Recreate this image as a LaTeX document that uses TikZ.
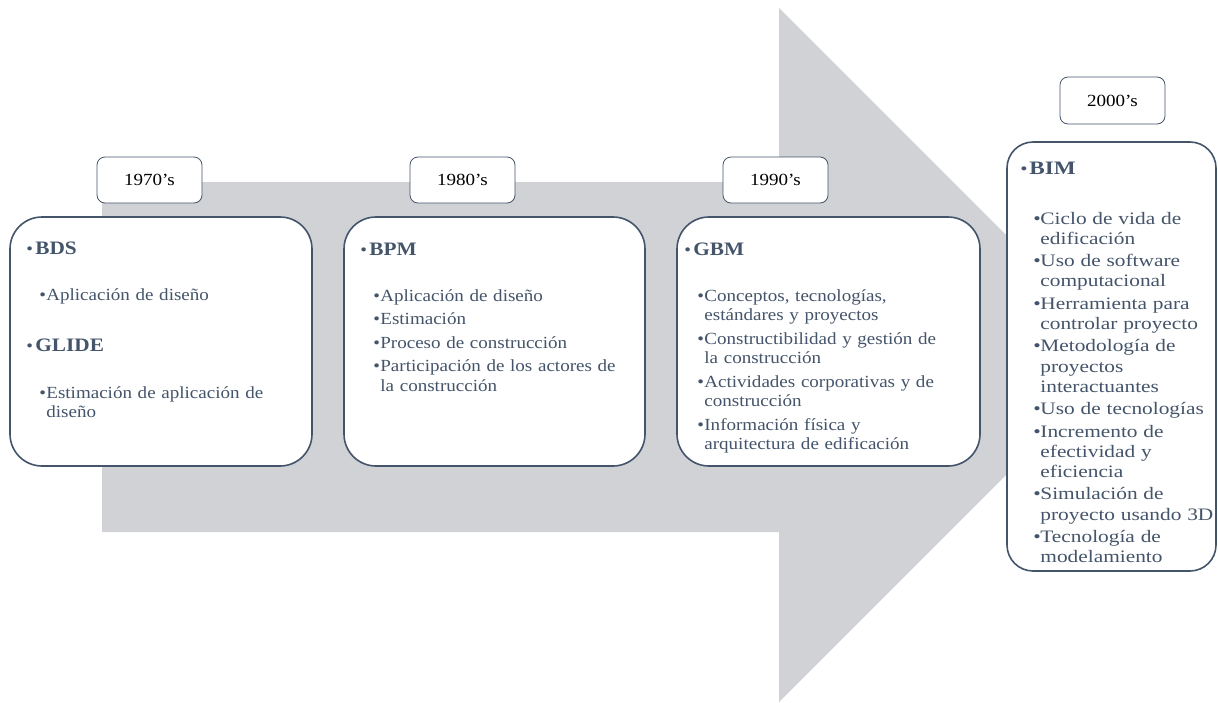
\documentclass[tikz,border=0pt]{standalone}
\usepackage{fontspec}
\setmainfont{Liberation Serif}[FakeStretch=1.12]
\newfontfamily\bimfont{Liberation Serif}[FakeStretch=1.22]
\usepackage{tikz}
\usetikzlibrary{calc}
\usetikzlibrary{positioning}
\definecolor{slate}{RGB}{68, 84, 106}
\definecolor{arrowgray}{RGB}{208, 210, 214}

\newcommand{\tlhead}[1]{\par\noindent{\fontsize{19}{23}\selectfont\makebox[9pt][l]{\fontsize{17}{19.5}\selectfont\textbullet}\textbf{#1}\par}}
\newcommand{\tlitem}[1]{\par\noindent\hangindent=20pt\hangafter=1\hspace*{13pt}\makebox[7pt][l]{\textbullet}#1\par}

\tikzset{
  era/.style={draw=slate, line width=1.6pt, rounded corners=32pt, fill=white},
  yearbox/.style={draw=slate, line width=0.8pt, rounded corners=8pt, fill=white,
    minimum width=105pt, minimum height=46pt, font=\fontsize{17}{19.5}\selectfont},
  txt/.style={text width=290pt, align=left, inner sep=0pt, text=slate,
    anchor=base west, font=\fontsize{17}{19.5}\selectfont}
}

\begin{document}
\begin{tikzpicture}[x=1pt, y=-1pt]
  \useasboundingbox (0,0) rectangle (1218,702);
  % big arrow in the back
  \fill[arrowgray] (102,182) -- (779,182) -- (779,8) -- (1126,355) -- (779,702)
    -- (779,532) -- (102,532) -- cycle;

  % era boxes
  \node[era, minimum width=302pt, minimum height=249pt] (bds) at (161,341.5) {};
  \node[era, minimum width=301pt, minimum height=249pt] (bpm) at (494.5,341.5) {};
  \node[era, minimum width=303pt, minimum height=249pt] (gbm) at (828.5,341.5) {};
  \node[era, rounded corners=26pt, minimum width=209pt, minimum height=429pt] (bim) at (1111.5,356.5) {};

  % years
  \node[yearbox] (y70) at (149.5,180) {1970’s};
  \node[yearbox] (y80) at (462.5,180) {1980’s};
  \node[yearbox] (y90) at (775.5,180) {1990’s};
  \node[yearbox, minimum height=47pt] (y00) at (1112.5,100.5) {2000’s};

  % contents
  \node[txt] (bdstext) at ($(bds.north west)+(17,15)$) {%
    \tlhead{BDS}\vspace{26.5pt}
    \tlitem{Aplicación de diseño}\vspace{28pt}
    \tlhead{GLIDE}\vspace{27.5pt}
    \tlitem{Estimación de aplicación de\newline diseño}};
  \node[txt] (bpmtext) at ($(bpm.north west)+(17,16)$) {%
    \tlhead{BPM}\vspace{26.5pt}
    \tlitem{Aplicación de diseño}\vspace{4pt}
    \tlitem{Estimación}\vspace{4pt}
    \tlitem{Proceso de construcción}\vspace{4pt}
    \tlitem{Participación de los actores de\newline la construcción}};
  \node[txt] (gbmtext) at ($(gbm.north west)+(8,16)$) {%
    \tlhead{GBM}\vspace{26.5pt}
    \tlitem{Conceptos, tecnologías,\newline estándares y proyectos}\vspace{4pt}
    \tlitem{Constructibilidad y gestión de\newline la construcción}\vspace{4pt}
    \tlitem{Actividades corporativas y de\newline construcción}\vspace{4pt}
    \tlitem{Información física y\newline arquitectura de edificación}};
  \node[txt, text width=200pt, font=\bimfont\fontsize{17.5}{20.3}\selectfont] (bimtext)
    at ($(bim.north west)+(14,10)$) {%
    \tlhead{BIM}\vspace{29.5pt}
    \tlitem{Ciclo de vida de\newline edificación}\vspace{2pt}
    \tlitem{Uso de software\newline computacional}\vspace{2pt}
    \tlitem{Herramienta para\newline controlar proyecto}\vspace{2pt}
    \tlitem{Metodología de\newline proyectos\newline interactuantes}\vspace{2pt}
    \tlitem{Uso de tecnologías}\vspace{2pt}
    \tlitem{Incremento de\newline efectividad y\newline eficiencia}\vspace{2pt}
    \tlitem{Simulación de\newline proyecto usando 3D}\vspace{2pt}
    \tlitem{Tecnología de\newline modelamiento}};
\end{tikzpicture}
\end{document}
